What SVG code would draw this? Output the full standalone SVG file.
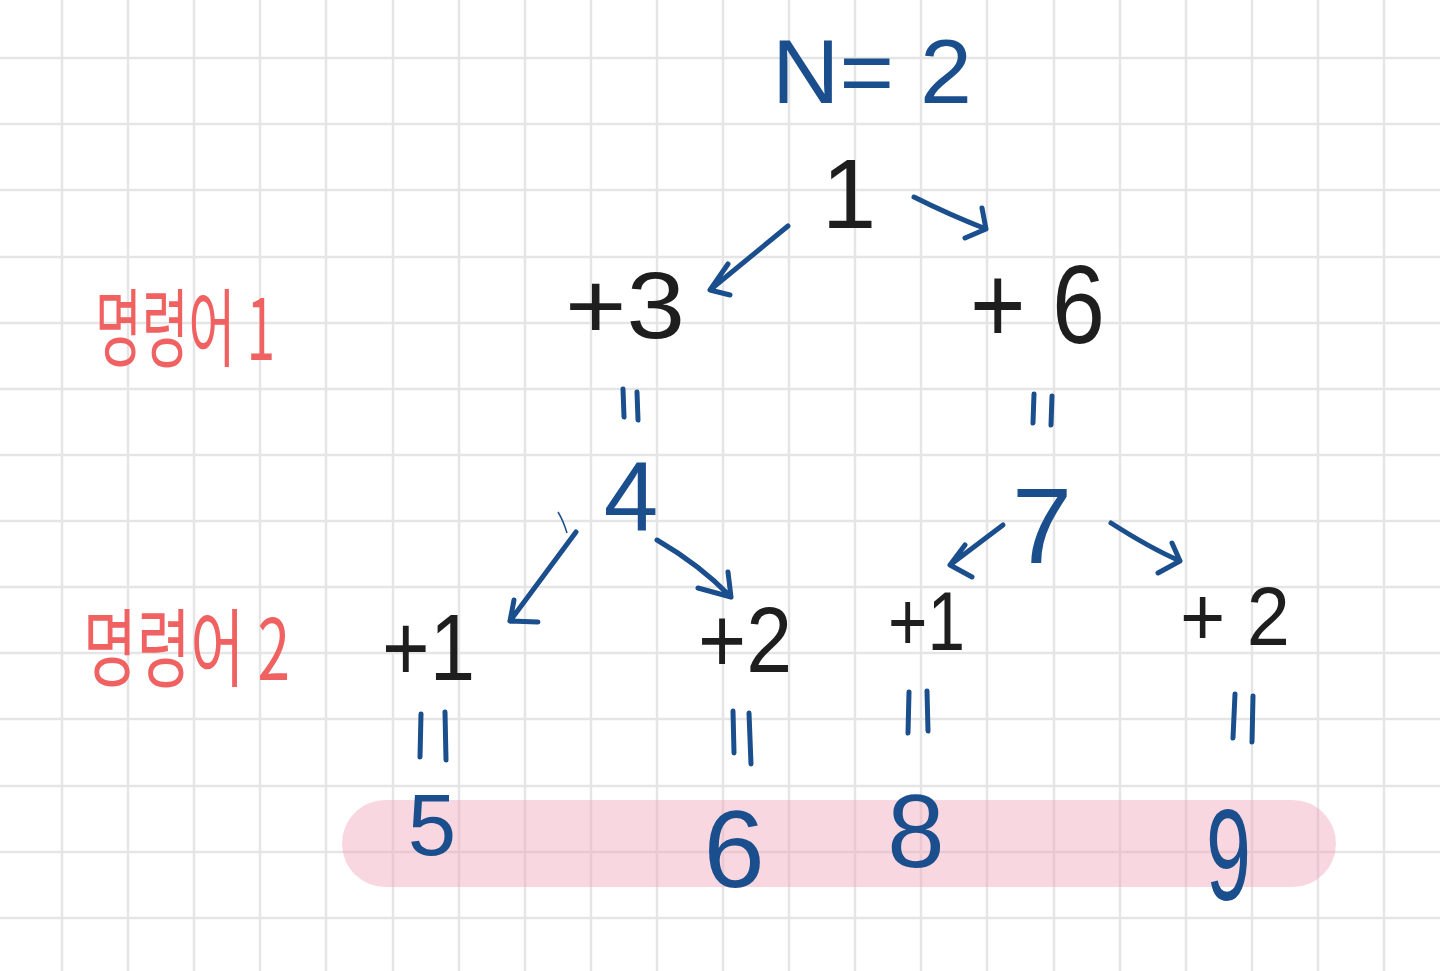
<svg xmlns="http://www.w3.org/2000/svg" width="1440" height="971" viewBox="0 0 1440 971">
<style>
.grid{stroke:#e5e5e5;stroke-width:2.5;fill:none}
.b{fill:#1a4e8c;font-family:"Liberation Sans",sans-serif}
.k{fill:#1e1e1e;font-family:"Liberation Sans",sans-serif}
.r{fill:#f06262;font-family:"Noto Sans CJK KR",sans-serif}
.c{stroke:#1a4e8c;stroke-width:5;fill:none;stroke-linecap:round;stroke-linejoin:round}
.eq{stroke:#1a4e8c;stroke-width:5;fill:none;stroke-linecap:round}
</style>
<rect width="1440" height="971" fill="#ffffff"/>
<g id="grid">
<path class="grid" d="M62 0V971M128 0V971M194 0V971M260 0V971M326 0V971M393 0V971M459 0V971M525 0V971M591 0V971M657 0V971M723 0V971M789 0V971M855 0V971M921 0V971M987 0V971M1054 0V971M1120 0V971M1186 0V971M1252 0V971M1318 0V971M1384 0V971"/>
<path class="grid" d="M0 58H1440M0 124H1440M0 190H1440M0 257H1440M0 323H1440M0 389H1440M0 455H1440M0 521H1440M0 587H1440M0 653H1440M0 719H1440M0 786H1440M0 852H1440M0 918H1440"/>
</g>
<rect id="highlight" x="342" y="800" width="994" height="87" rx="43.5" fill="#ef9fb6" fill-opacity="0.42"/>
<g id="labels">
<text class="r" x="95" y="360" font-size="85" textLength="180" lengthAdjust="spacingAndGlyphs">명령어 1</text>
<text class="r" x="83" y="680" font-size="85" textLength="207" lengthAdjust="spacingAndGlyphs">명령어 2</text>
</g>
<g id="title"><text class="b" x="772" y="103" font-size="90" textLength="200" lengthAdjust="spacingAndGlyphs">N= 2</text></g>
<g id="n1"><text class="k" x="849" y="228" font-size="98" text-anchor="middle">1</text></g>
<g id="p3"><text class="k" x="565" y="338" font-size="95" textLength="120" lengthAdjust="spacingAndGlyphs">+3</text></g>
<g id="p6"><text class="k" x="970" y="343" font-size="112" textLength="135" lengthAdjust="spacingAndGlyphs">+ 6</text></g>
<g id="n4"><text class="b" x="631" y="530" font-size="98" text-anchor="middle">4</text></g>
<g id="n7"><text class="b" x="1042" y="563" font-size="108" text-anchor="middle">7</text></g>
<g id="p1a"><text class="k" x="382" y="680" font-size="95" textLength="93" lengthAdjust="spacingAndGlyphs">+1</text></g>
<g id="p2a"><text class="k" x="698" y="672" font-size="92" textLength="94" lengthAdjust="spacingAndGlyphs">+2</text></g>
<g id="p1b"><text class="k" x="888" y="650" font-size="84" textLength="77" lengthAdjust="spacingAndGlyphs">+1</text></g>
<g id="p2b"><text class="k" x="1180" y="645" font-size="84" textLength="110" lengthAdjust="spacingAndGlyphs">+ 2</text></g>
<g id="n5"><text class="b" x="432" y="855" font-size="87" text-anchor="middle">5</text></g>
<g id="n6"><text class="b" x="734" y="887" font-size="110" text-anchor="middle">6</text></g>
<g id="n8"><text class="b" x="916" y="867" font-size="103" text-anchor="middle">8</text></g>
<g id="n9"><text class="b" x="1206" y="900" font-size="130" textLength="45" lengthAdjust="spacingAndGlyphs">9</text></g>
<g id="connectors">
<path class="c" d="M788 226L710 290M728 264L710 290L730 295"/>
<path class="c" d="M914 197Q950 215 986 229M982 208L986 229L965 238"/>
<path class="c" d="M576 532L510 621M514 600L510 621L538 622"/>
<path stroke="#1a4e8c" stroke-width="1.5" fill="none" d="M558 512Q563 520 567 533"/>
<path class="c" d="M657 540Q700 565 731 597M728 572L731 597L698 588"/>
<path class="c" d="M1003 525L950 565M965 545L950 565L972 577"/>
<path class="c" d="M1111 523Q1150 548 1180 561M1172 543L1180 561L1158 573"/>
<path class="eq" d="M623 389L624 417M637 392L638 420"/>
<path class="eq" d="M1034 394L1033 423M1052 396L1051 425"/>
<path class="eq" d="M421 714L420 757M445 712L446 760"/>
<path class="eq" d="M733 711L734 753M749 713L751 764"/>
<path class="eq" d="M909 692L908 733M927 691L928 731"/>
<path class="eq" d="M1235 694L1233 738M1253 696L1252 742"/>
</g>
</svg>
